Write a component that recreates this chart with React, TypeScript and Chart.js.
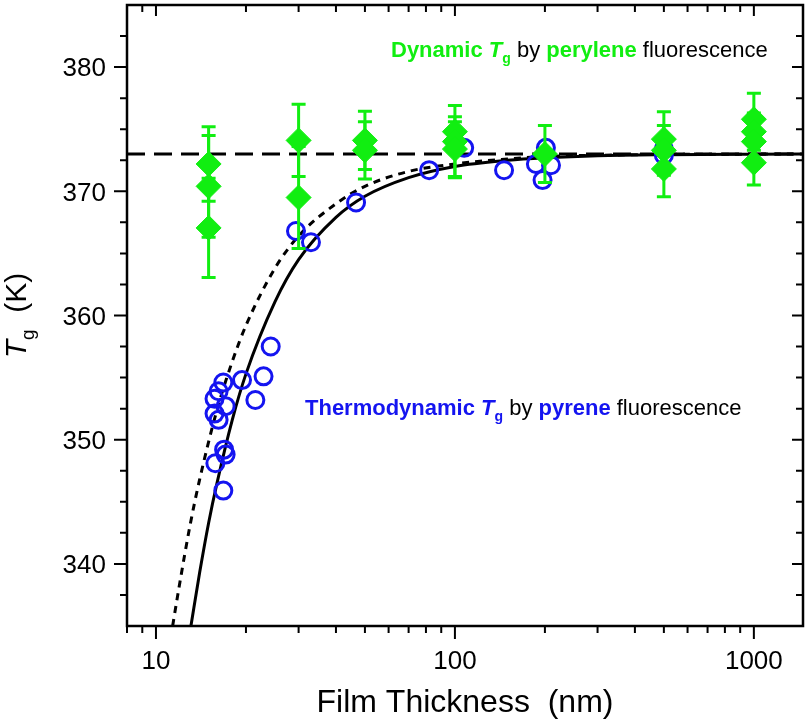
import React, { useEffect, useRef } from "react";
import { Chart, registerables } from "chart.js";
Chart.register(...registerables);

// ---- data ----
const pyreneThickness = [24.2, 22.9, 19.4, 16.8, 16.2, 15.7, 17.1, 21.5, 15.7, 16.2, 16.9, 17.1, 15.8, 16.8,
  29.4, 33.0, 46.7, 82.0, 107.4, 146, 201.5, 186.6, 209.6, 196.4, 500, 500];
const pyreneTg = [357.5, 355.1, 354.8, 354.6, 353.9, 353.3, 352.7, 353.2, 352.1, 351.6, 349.2, 348.8, 348.1, 345.9,
  366.8, 365.9, 369.1, 371.7, 373.5, 371.7, 373.5, 372.2, 372.1, 370.9, 373.4, 372.9];

const peryleneThickness = [15, 15, 15, 30, 30, 50, 50, 100, 100, 100, 200, 500, 500, 500, 1000, 1000, 1000, 1000];
const peryleneTg = [372.2, 370.4, 367.05, 374.1, 369.5, 374.1, 373.3, 374.8, 374.0, 373.4, 373.0, 374.2, 373.3, 371.8, 375.8, 374.8, 374.0, 372.3];
const peryleneErr = [3.0, 4.1, 4.0, 2.9, 4.1, 2.35, 2.3, 1.2, 2.9, 2.2, 2.3, 2.2, 2.0, 2.24, 2.1, 1.5, 1.5, 1.8];

const solidCurveX = [13.09, 14, 15, 16, 18, 20, 25, 30, 40, 50, 70, 100, 150, 200, 300, 500, 1000, 1460];
const solidCurveY = [335.0, 339.3, 343.3, 346.5, 351.6, 355.3, 361.1, 364.5, 367.9, 369.6, 371.1, 372.0, 372.5, 372.7, 372.87, 372.95, 372.99, 373.0];

const dashedCurveX = [11.37, 12, 13, 14, 16, 18, 20, 25, 30, 40, 50, 70, 100, 150, 200, 300, 500, 1460];
const dashedCurveY = [335.0, 338.4, 343.1, 346.8, 352.4, 356.3, 359.2, 363.8, 366.4, 369.0, 370.4, 371.6, 372.2, 372.6, 372.8, 372.9, 372.97, 373.0];

const bulkTgX = [8, 1460];
const bulkTgY = [373, 373];

const xMajorTicks = [10, 100, 1000];
const xTickLabels = ["10", "100", "1000"];
const xMinorTicks = [8, 9, 20, 30, 40, 50, 60, 70, 80, 90, 200, 300, 400, 500, 600, 700, 800, 900];
const yMajorTicks = [340, 350, 360, 370, 380];
const yTickLabels = ["340", "350", "360", "370", "380"];
const yMinorTicks = [337.5, 342.5, 345, 347.5, 352.5, 355, 357.5, 362.5, 365, 367.5, 372.5, 375, 377.5, 382.5];

const GREEN = "#11ee11";
const BLUE = "#1414f0";
const FONT = "'Liberation Sans', Arial, Helvetica, sans-serif";

type Seg = { t: string; f: string; c: string; dy?: number };

function drawSegs(ctx: CanvasRenderingContext2D, segs: Seg[], x: number, y: number, align: "left" | "center") {
  let total = 0;
  for (const s of segs) { ctx.font = s.f; total += ctx.measureText(s.t).width; }
  let cx = align === "center" ? x - total / 2 : x;
  ctx.textAlign = "left";
  ctx.textBaseline = "alphabetic";
  for (const s of segs) {
    ctx.font = s.f;
    ctx.fillStyle = s.c;
    ctx.fillText(s.t, cx, y + (s.dy || 0));
    cx += ctx.measureText(s.t).width;
  }
}

const customPlugin = {
  id: "customDecor",
  afterDatasetDraw(chart: any, args: any) {
    if (args.index !== 1) return;
    const ctx: CanvasRenderingContext2D = chart.ctx;
    const xs = chart.scales.x, ys = chart.scales.y;
    ctx.save();
    ctx.strokeStyle = GREEN;
    ctx.lineWidth = 3;
    for (let i = 0; i < peryleneThickness.length; i++) {
      const px = xs.getPixelForValue(peryleneThickness[i]);
      const pTop = ys.getPixelForValue(peryleneTg[i] + peryleneErr[i]);
      const pBot = ys.getPixelForValue(peryleneTg[i] - peryleneErr[i]);
      ctx.beginPath();
      ctx.moveTo(px, pTop); ctx.lineTo(px, pBot);
      ctx.moveTo(px - 7, pTop); ctx.lineTo(px + 7, pTop);
      ctx.moveTo(px - 7, pBot); ctx.lineTo(px + 7, pBot);
      ctx.stroke();
    }
    ctx.restore();
  },
  afterDraw(chart: any) {
    const ctx: CanvasRenderingContext2D = chart.ctx;
    const { left, right, top, bottom } = chart.chartArea;
    const xs = chart.scales.x, ys = chart.scales.y;
    ctx.save();
    // frame
    ctx.strokeStyle = "#000";
    ctx.lineWidth = 2.5;
    ctx.strokeRect(left, top, right - left, bottom - top);
    // ticks
    ctx.lineWidth = 2;
    ctx.beginPath();
    for (const v of yMajorTicks) {
      const p = ys.getPixelForValue(v);
      ctx.moveTo(left - 13, p); ctx.lineTo(left, p);
      ctx.moveTo(right, p); ctx.lineTo(right - 11, p);
    }
    for (const v of yMinorTicks) {
      const p = ys.getPixelForValue(v);
      ctx.moveTo(left - 7, p); ctx.lineTo(left, p);
      ctx.moveTo(right, p); ctx.lineTo(right - 7, p);
    }
    for (const v of xMajorTicks) {
      const p = xs.getPixelForValue(v);
      ctx.moveTo(p, bottom); ctx.lineTo(p, bottom + 13);
      ctx.moveTo(p, top); ctx.lineTo(p, top + 11);
    }
    for (const v of xMinorTicks) {
      const p = xs.getPixelForValue(v);
      if (p < left - 0.5 || p > right + 0.5) continue;
      ctx.moveTo(p, bottom); ctx.lineTo(p, bottom + 7);
      ctx.moveTo(p, top); ctx.lineTo(p, top + 7);
    }
    ctx.stroke();
    // tick labels
    ctx.fillStyle = "#000";
    ctx.font = `26px ${FONT}`;
    ctx.textAlign = "right";
    ctx.textBaseline = "alphabetic";
    yMajorTicks.forEach((v, i) => {
      ctx.fillText(yTickLabels[i], left - 21, ys.getPixelForValue(v) + 9.3);
    });
    ctx.textAlign = "center";
    xMajorTicks.forEach((v, i) => {
      ctx.fillText(xTickLabels[i], xs.getPixelForValue(v), bottom + 43);
    });
    // x title
    ctx.font = `32px ${FONT}`;
    ctx.fillText("Film Thickness  (nm)", (left + right) / 2, 712);
    // y title (rotated)
    ctx.save();
    ctx.translate(26, (top + bottom) / 2);
    ctx.rotate(-Math.PI / 2);
    drawSegs(ctx, [
      { t: "T", f: `italic 30px ${FONT}`, c: "#000" },
      { t: "g", f: `19px ${FONT}`, c: "#000", dy: 8 },
      { t: "  (K)", f: `30px ${FONT}`, c: "#000" },
    ], 0, 0, "center");
    ctx.restore();
    // annotations
    drawSegs(ctx, [
      { t: "Dynamic ", f: `bold 22px ${FONT}`, c: GREEN },
      { t: "T", f: `italic bold 22px ${FONT}`, c: GREEN },
      { t: "g", f: `bold 14px ${FONT}`, c: GREEN, dy: 6 },
      { t: " by ", f: `22px ${FONT}`, c: "#000" },
      { t: "perylene", f: `bold 22px ${FONT}`, c: GREEN },
      { t: " fluorescence", f: `22px ${FONT}`, c: "#000" },
    ], 391, 57, "left");
    drawSegs(ctx, [
      { t: "Thermodynamic ", f: `bold 22px ${FONT}`, c: BLUE },
      { t: "T", f: `italic bold 22px ${FONT}`, c: BLUE },
      { t: "g", f: `bold 14px ${FONT}`, c: BLUE, dy: 6 },
      { t: " by ", f: `22px ${FONT}`, c: "#000" },
      { t: "pyrene", f: `bold 22px ${FONT}`, c: BLUE },
      { t: " fluorescence", f: `22px ${FONT}`, c: "#000" },
    ], 305, 415, "left");
    ctx.restore();
  },
};

export default function App() {
  const ref = useRef<HTMLCanvasElement | null>(null);
  useEffect(() => {
    document.body.style.margin = "0";
    if (!ref.current) return;
    const toPts = (xs: number[], ys: number[]) => xs.map((x, i) => ({ x, y: ys[i] }));
    const chart = new Chart(ref.current, {
      type: "scatter",
      data: {
        datasets: [
          {
            label: "perylene",
            data: toPts(peryleneThickness, peryleneTg),
            pointStyle: "rectRot",
            pointRadius: 12.5,
            backgroundColor: GREEN,
            borderColor: GREEN,
            borderWidth: 1,
            showLine: false,
          },
          {
            label: "pyrene",
            data: toPts(pyreneThickness, pyreneTg),
            pointStyle: "circle",
            pointRadius: 8.5,
            backgroundColor: "rgba(0,0,0,0)",
            borderColor: BLUE,
            borderWidth: 3,
            showLine: false,
          },
          {
            label: "bulk",
            data: toPts(bulkTgX, bulkTgY),
            showLine: true,
            pointRadius: 0,
            borderColor: "#000",
            borderWidth: 3,
            borderDash: [18, 9],
          },
          {
            label: "dashed fit",
            data: toPts(dashedCurveX, dashedCurveY),
            showLine: true,
            pointRadius: 0,
            borderColor: "#000",
            borderWidth: 3,
            borderDash: [7, 6],
            cubicInterpolationMode: "monotone",
          },
          {
            label: "solid fit",
            data: toPts(solidCurveX, solidCurveY),
            showLine: true,
            pointRadius: 0,
            borderColor: "#000",
            borderWidth: 3,
            cubicInterpolationMode: "monotone",
          },
        ],
      },
      options: {
        animation: false,
        responsive: false,
        devicePixelRatio: 1,
        layout: { autoPadding: false, padding: { top: 5, right: 7, left: 0, bottom: 0 } },
        plugins: { legend: { display: false }, tooltip: { enabled: false } },
        scales: {
          x: {
            type: "logarithmic",
            min: 8,
            max: 1460,
            ticks: { display: false },
            grid: { display: false, drawTicks: false },
            border: { display: false },
            afterFit: (s: any) => { s.height = 102; },
          },
          y: {
            type: "linear",
            min: 335,
            max: 385,
            ticks: { display: false },
            grid: { display: false, drawTicks: false },
            border: { display: false },
            afterFit: (s: any) => { s.width = 127; },
          },
        },
      },
      plugins: [customPlugin],
    } as any);
    return () => chart.destroy();
  }, []);
  return (
    <div style={{ width: 810, height: 728, background: "#fff" }}>
      <canvas ref={ref} width={810} height={728} style={{ display: "block", width: 810, height: 728 }} />
    </div>
  );
}
